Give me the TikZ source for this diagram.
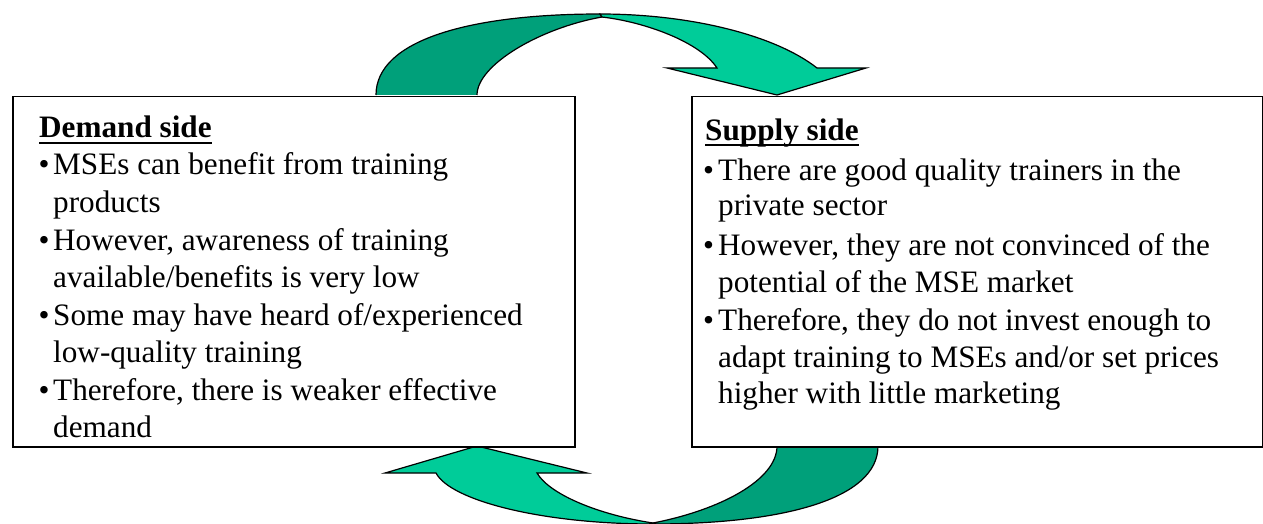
\documentclass[tikz,border=0pt]{standalone}
\usepackage{fontspec}
\setmainfont{Liberation Serif}
\definecolor{arrowdark}{RGB}{0,160,122}
\definecolor{arrowlight}{RGB}{0,204,153}
\begin{document}
\begin{tikzpicture}[x=1pt,y=-1pt,
  box/.style={draw=black,line width=1.5pt,fill=white},
  shapeout/.style={draw=black,line width=1.2pt,line join=miter},
  txt/.style={anchor=base west,inner sep=0pt,font=\fontsize{31.2}{37}\selectfont},
  head/.style={txt,font=\fontsize{31.2}{37}\selectfont\bfseries},
  bul/.style={anchor=base west,inner sep=0pt,font=\fontsize{31.2}{37}\selectfont},
  uline/.style={line width=2.6pt}]
\useasboundingbox (0,0) rectangle (1263,524);
% top curved arrow
\fill[arrowdark] (376,95) .. controls (376,40) and (470,14) .. (600,14)
  -- (602,17) .. controls (540,28) and (477,65) .. (477,95) -- cycle;
\draw[shapeout] (376,95) .. controls (376,40) and (470,14) .. (600,14)
  -- (602,17) .. controls (540,28) and (477,65) .. (477,95);
\filldraw[fill=arrowlight,shapeout] (600,14) .. controls (690,14) and (775,35) .. (817,68)
  -- (866,68) -- (777,95) -- (667,68) -- (717,68)
  .. controls (700,42) and (645,22) .. (602,17) -- cycle;
% bottom curved arrow
\fill[arrowdark] (878,446) .. controls (878,500) and (780,524) .. (653,524)
  -- (653,523) .. controls (720,510) and (777,480) .. (777,446) -- cycle;
\draw[shapeout] (878,446) .. controls (878,500) and (780,524) .. (653,524)
  -- (653,523) .. controls (720,510) and (777,480) .. (777,446);
\filldraw[fill=arrowlight,shapeout] (653,524) .. controls (540,524) and (450,500) .. (436,473)
  -- (385,473) -- (477,446) -- (587,473) -- (537,473)
  .. controls (550,495) and (600,515) .. (653,523) -- cycle;
% boxes
\node[box,minimum width=562pt,minimum height=350pt,anchor=north west,inner sep=0pt] (demand) at (12,96) {};
\node[box,minimum width=571pt,minimum height=350pt,anchor=north west,inner sep=0pt] (supply) at (691,96) {};
% demand text
\node[head] (dh) at (39,138) {Demand side};
\draw[uline] ([yshift=-5pt]dh.base west) -- ([yshift=-5pt]dh.base east);
\node[bul] (db1) at (38.5,175) {•};
\node[txt] (d1) at (53,175) {MSEs can benefit from training};
\node[txt] (d1b) at (53,212) {products};
\node[bul] (db2) at (38.5,250) {•};
\node[txt] (d2) at (53,250) {However, awareness of training};
\node[txt] (d2b) at (53,287) {available/benefits is very low};
\node[bul] (db3) at (38.5,325) {•};
\node[txt] (d3) at (53,325) {Some may have heard of/experienced};
\node[txt] (d3b) at (53,362) {low-quality training};
\node[bul] (db4) at (38.5,400) {•};
\node[txt] (d4) at (53,400) {Therefore, there is weaker effective};
\node[txt] (d4b) at (53,437) {demand};
% supply text
\node[head] (sh) at (705,140) {Supply side};
\draw[uline] ([yshift=-5pt]sh.base west) -- ([yshift=-5pt]sh.base east);
\node[bul] (sb1) at (703,180) {•};
\node[txt] (s1) at (718,180) {There are good quality trainers in the};
\node[txt] (s1b) at (718,215) {private sector};
\node[bul] (sb2) at (703,255) {•};
\node[txt] (s2) at (718,255) {However, they are not convinced of the};
\node[txt] (s2b) at (718,292) {potential of the MSE market};
\node[bul] (sb3) at (703,330) {•};
\node[txt] (s3) at (718,330) {Therefore, they do not invest enough to};
\node[txt] (s3b) at (718,367) {adapt training to MSEs and/or set prices};
\node[txt] (s3c) at (718,403) {higher with little marketing};
\end{tikzpicture}
\end{document}
